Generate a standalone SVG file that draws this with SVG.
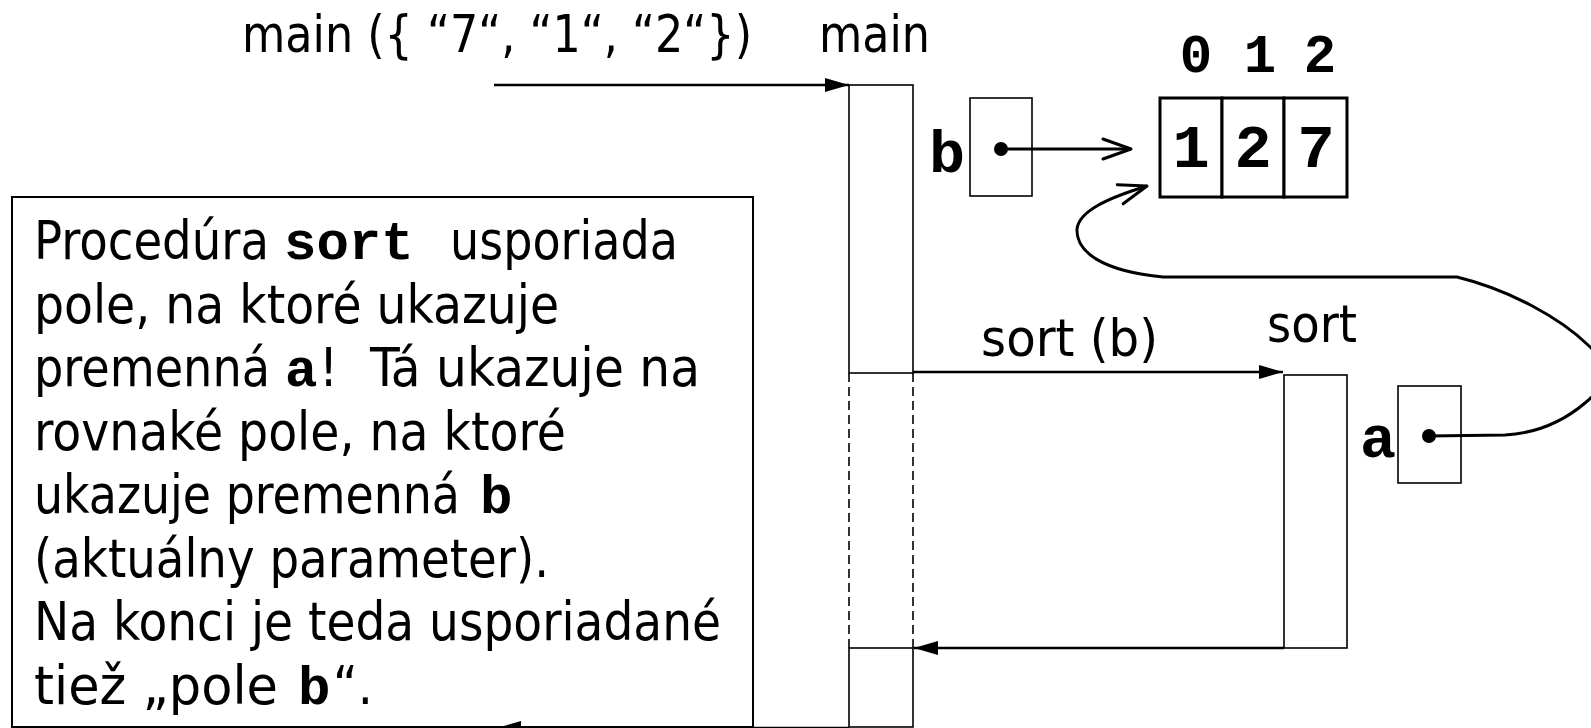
<svg xmlns="http://www.w3.org/2000/svg" width="1591" height="728" viewBox="0 0 1591 728">
<style>
.sans{font-family:"DejaVu Sans Condensed","DejaVu Sans",sans-serif;fill:#000}
.lbl{font-size:52px}
.body{font-size:53px}
.mono{font-family:"Liberation Mono","Courier New","DejaVu Sans Mono",monospace;font-weight:bold;fill:#000}
.thin{fill:#fff;stroke:#000;stroke-width:1.6}
.thick{fill:#fff;stroke:#000;stroke-width:3}
.dash{stroke:#000;stroke-width:1.6;stroke-dasharray:9 5;fill:none}
.arr{stroke:#000;stroke-width:2.6;fill:none}
.ptr{stroke:#000;stroke-width:3;fill:none}
</style>
<defs>
<marker id="tri" markerUnits="userSpaceOnUse" markerWidth="26" markerHeight="16" refX="24" refY="7" orient="auto" overflow="visible">
<path d="M0,0 L24,7 L0,14 z" fill="#000"/>
</marker>
<marker id="open" markerUnits="userSpaceOnUse" markerWidth="32" markerHeight="24" refX="28" refY="10" orient="auto" overflow="visible">
<path d="M0,0 L28,10 L0,20" fill="none" stroke="#000" stroke-width="3" stroke-linecap="round" stroke-linejoin="round"/>
</marker>
</defs>

<g id="note">
<rect x="12" y="197" width="741" height="530" fill="#fff" stroke="#000" stroke-width="2"/>
<text class="sans body" y="259"><tspan x="34" textLength="235" lengthAdjust="spacingAndGlyphs">Procedúra</tspan><tspan class="mono" x="284" font-size="54">sort</tspan><tspan x="450" textLength="228" lengthAdjust="spacingAndGlyphs">usporiada</tspan></text>
<text class="sans body" x="34" y="322.5" textLength="525" lengthAdjust="spacingAndGlyphs">pole, na ktoré ukazuje</text>
<text class="sans body" y="386"><tspan x="34" textLength="236" lengthAdjust="spacingAndGlyphs">premenná</tspan><tspan class="mono" x="285" font-size="54">a</tspan><tspan x="319">!</tspan><tspan x="370" textLength="330" lengthAdjust="spacingAndGlyphs">Tá ukazuje na</tspan></text>
<text class="sans body" x="34" y="449.5" textLength="532" lengthAdjust="spacingAndGlyphs">rovnaké pole, na ktoré</text>
<text class="sans body" y="513"><tspan x="34" textLength="426" lengthAdjust="spacingAndGlyphs">ukazuje premenná</tspan><tspan class="mono" x="480" font-size="54">b</tspan></text>
<text class="sans body" x="34" y="576.5" textLength="515" lengthAdjust="spacingAndGlyphs">(aktuálny parameter).</text>
<text class="sans body" x="34" y="640" textLength="687" lengthAdjust="spacingAndGlyphs">Na konci je teda usporiadané</text>
<text class="sans body" y="703.5"><tspan x="34" textLength="244" lengthAdjust="spacingAndGlyphs">tiež „pole</tspan><tspan class="mono" x="298" font-size="54">b</tspan><tspan x="333">“.</tspan></text>
</g>

<g id="main">
<text class="sans lbl" x="242" y="52" textLength="510" lengthAdjust="spacingAndGlyphs">main ({ “7“, “1“, “2“})</text>
<text class="sans lbl" x="819" y="52" textLength="111" lengthAdjust="spacingAndGlyphs">main</text>
<rect class="thin" x="849" y="85" width="64" height="288"/>
<line class="dash" x1="849" y1="373" x2="849" y2="648"/>
<line class="dash" x1="913" y1="373" x2="913" y2="648"/>
<rect class="thin" x="849" y="648" width="64" height="79"/>
</g>

<g id="var-b">
<text class="mono" font-size="60" x="929" y="172">b</text>
<rect class="thin" x="970" y="98" width="62" height="98" stroke-width="2"/>
<circle cx="1001" cy="149" r="7" fill="#000"/>
</g>

<g id="array">
<text class="mono" font-size="54" x="1196 1228 1260 1290 1320" y="72" text-anchor="middle">0 1 2</text>
<rect class="thick" x="1160" y="98" width="62" height="99"/>
<rect class="thick" x="1222" y="98" width="62" height="99"/>
<rect class="thick" x="1284" y="98" width="63" height="99"/>
<text class="mono" font-size="62" x="1191" y="167" text-anchor="middle">1</text>
<text class="mono" font-size="62" x="1253" y="167" text-anchor="middle">2</text>
<text class="mono" font-size="62" x="1316" y="167" text-anchor="middle">7</text>
</g>

<g id="sort">
<text class="sans lbl" x="1267" y="342" textLength="90" lengthAdjust="spacingAndGlyphs">sort</text>
<rect class="thin" x="1284" y="375" width="63" height="273"/>
</g>

<g id="var-a">
<text class="mono" font-size="60" x="1360" y="457">a</text>
<rect class="thin" x="1398" y="386" width="63" height="97" stroke-width="2"/>
<circle cx="1429" cy="436" r="7" fill="#000"/>
</g>

<g id="connectors">
<line class="arr" x1="494" y1="85" x2="849" y2="85" marker-end="url(#tri)"/>
<line class="arr" x1="913" y1="372" x2="1283" y2="372" marker-end="url(#tri)"/>
<text class="sans lbl" x="981" y="356" textLength="177" lengthAdjust="spacingAndGlyphs">sort (b)</text>
<line class="arr" x1="1284" y1="648" x2="914" y2="648" marker-end="url(#tri)"/>
<line class="arr" x1="849" y1="728" x2="497" y2="728" marker-end="url(#tri)"/>
<line class="ptr" x1="1001" y1="149" x2="1131" y2="149" marker-end="url(#open)"/>
<path class="ptr" d="M1429,436 L1505,435 C1540,433 1565,420 1585,403 C1610,382 1610,365 1588,345 C1560,318 1510,290 1457,277 L1163,277 C1102,271 1076,252 1077,229 C1079,211 1108,198 1147,186" marker-end="url(#open)"/>
</g>
</svg>
